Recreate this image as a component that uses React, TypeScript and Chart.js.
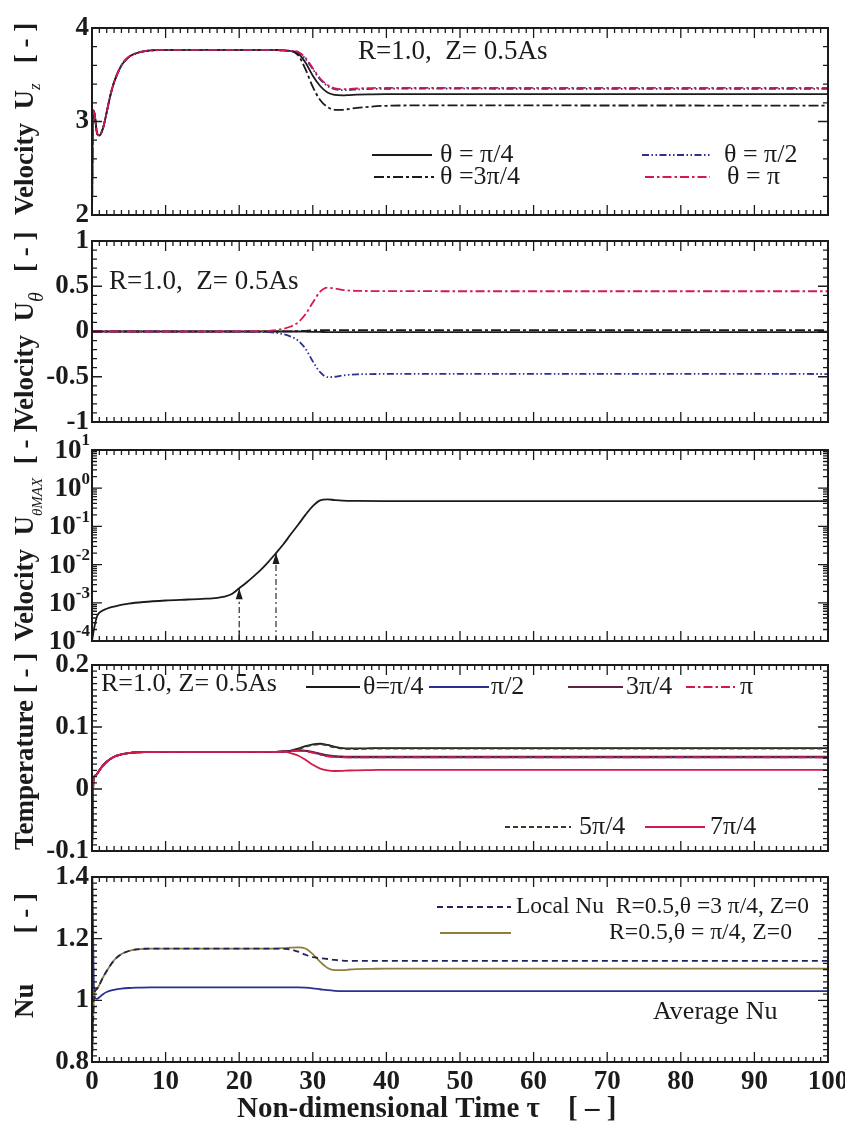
import React, { useEffect, useRef } from "react";
import { Chart, registerables } from "chart.js";

Chart.register(...registerables);

// ---------------- data ----------------
const X_TICKS = [0, 10, 20, 30, 40, 50, 60, 70, 80, 90, 100];

// Panel 1 : axial velocity Uz at R=1.0, Z=0.5As
const T1 = [0, 0.15, 0.35, 0.7, 1, 1.5, 2, 2.5, 3, 4, 5, 6, 7, 8, 10, 15, 20, 25, 26, 27, 28, 29, 30, 31, 32, 33, 34, 35, 36, 38, 40, 45, 50, 60, 70, 80, 90, 100];
const UZ_PI4 = [2.0, 3.12, 3.08, 2.87, 2.85, 2.93, 3.1, 3.28, 3.42, 3.6, 3.69, 3.73, 3.75, 3.76, 3.765, 3.765, 3.765, 3.765, 3.76, 3.755, 3.73, 3.63, 3.49, 3.38, 3.31, 3.285, 3.28, 3.283, 3.287, 3.29, 3.292, 3.293, 3.293, 3.293, 3.293, 3.292, 3.292, 3.292];
const UZ_PI2 = [2.0, 3.12, 3.08, 2.87, 2.85, 2.93, 3.1, 3.28, 3.42, 3.6, 3.69, 3.73, 3.75, 3.76, 3.765, 3.765, 3.765, 3.765, 3.76, 3.755, 3.74, 3.67, 3.56, 3.45, 3.38, 3.345, 3.335, 3.338, 3.343, 3.348, 3.35, 3.351, 3.351, 3.35, 3.35, 3.35, 3.35, 3.35];
const UZ_3PI4 = [2.0, 3.12, 3.08, 2.87, 2.85, 2.93, 3.1, 3.28, 3.42, 3.6, 3.69, 3.73, 3.75, 3.76, 3.765, 3.765, 3.765, 3.765, 3.76, 3.755, 3.71, 3.56, 3.37, 3.23, 3.155, 3.125, 3.125, 3.135, 3.145, 3.16, 3.168, 3.172, 3.172, 3.172, 3.171, 3.171, 3.17, 3.17];
const UZ_PI = [2.0, 3.12, 3.08, 2.87, 2.85, 2.93, 3.1, 3.28, 3.42, 3.6, 3.69, 3.73, 3.75, 3.76, 3.765, 3.765, 3.765, 3.765, 3.76, 3.755, 3.745, 3.68, 3.57, 3.46, 3.39, 3.355, 3.345, 3.348, 3.353, 3.358, 3.36, 3.36, 3.36, 3.36, 3.36, 3.36, 3.36, 3.36];

// Panel 2 : azimuthal velocity U_theta
const T2 = [0, 5, 10, 15, 20, 22, 23, 24, 25, 26, 27, 28, 29, 30, 31, 32, 33, 34, 35, 36, 38, 40, 50, 60, 70, 80, 90, 100];
const UT_PI = [0, 0, 0, 0, 0.001, 0.003, 0.005, 0.008, 0.015, 0.03, 0.055, 0.1, 0.19, 0.32, 0.44, 0.485, 0.475, 0.46, 0.452, 0.449, 0.447, 0.446, 0.445, 0.445, 0.445, 0.445, 0.445, 0.445];
const UT_PI2 = [0, 0, 0, 0, -0.001, -0.003, -0.005, -0.008, -0.015, -0.03, -0.056, -0.1, -0.19, -0.33, -0.45, -0.505, -0.5, -0.487, -0.478, -0.473, -0.47, -0.469, -0.468, -0.468, -0.468, -0.468, -0.468, -0.47];
const UT_PI4 = [0, 0, 0, 0, 0, 0, 0, 0, 0, 0, 0, 0, -0.002, -0.004, -0.005, -0.006, -0.006, -0.006, -0.006, -0.006, -0.006, -0.006, -0.006, -0.006, -0.006, -0.006, -0.006, -0.006];
const UT_3PI4 = [0, 0, 0, 0, 0, 0, 0, 0, 0, 0.001, 0.002, 0.004, 0.008, 0.012, 0.015, 0.016, 0.016, 0.016, 0.016, 0.016, 0.016, 0.016, 0.016, 0.016, 0.016, 0.016, 0.016, 0.016];

// Panel 3 : maximum azimuthal velocity (log)
const T3 = [0, 0.3, 0.7, 1, 2, 3, 5, 7, 10, 13, 15, 17, 18, 19, 20, 21, 22, 23, 24, 25, 26, 27, 28, 29, 30, 31, 32, 33, 34, 36, 40, 50, 60, 70, 80, 90, 100];
const UT_MAX = [1e-4, 2.2e-4, 4.5e-4, 5.5e-4, 7e-4, 8e-4, 9.5e-4, 1.05e-3, 1.15e-3, 1.22e-3, 1.27e-3, 1.35e-3, 1.45e-3, 1.7e-3, 2.4e-3, 3.4e-3, 5e-3, 7.5e-3, 1.2e-2, 2.0e-2, 3.4e-2, 6.2e-2, 0.11, 0.2, 0.34, 0.48, 0.51, 0.49, 0.475, 0.465, 0.46, 0.458, 0.457, 0.457, 0.457, 0.457, 0.457];
const ARROW_T = [20, 25];
const ARROW_TIP = [2.4e-3, 2.0e-2];
const ARROW_BASE = 1e-4;

// Panel 4 : temperature
const T4 = [0, 0.2, 0.5, 1, 1.5, 2, 3, 4, 5, 6, 8, 10, 20, 25, 26, 27, 28, 29, 30, 31, 32, 33, 34, 35, 36, 38, 40, 50, 60, 70, 80, 90, 100];
const TE_PI4 = [-0.1, 0.015, 0.022, 0.03, 0.038, 0.044, 0.052, 0.056, 0.058, 0.059, 0.06, 0.06, 0.06, 0.06, 0.0605, 0.062, 0.065, 0.069, 0.072, 0.073, 0.071, 0.068, 0.066, 0.0655, 0.0655, 0.0658, 0.066, 0.066, 0.066, 0.066, 0.066, 0.066, 0.066];
const TE_PI2 = [-0.1, 0.015, 0.022, 0.03, 0.038, 0.044, 0.052, 0.056, 0.058, 0.059, 0.06, 0.06, 0.06, 0.06, 0.0605, 0.061, 0.062, 0.0615, 0.059, 0.056, 0.053, 0.052, 0.0515, 0.051, 0.051, 0.051, 0.051, 0.051, 0.051, 0.051, 0.051, 0.051, 0.051];
const TE_3PI4 = [-0.1, 0.015, 0.022, 0.03, 0.038, 0.044, 0.052, 0.056, 0.058, 0.059, 0.06, 0.06, 0.06, 0.06, 0.0605, 0.0612, 0.0625, 0.062, 0.06, 0.057, 0.0545, 0.053, 0.0525, 0.052, 0.052, 0.052, 0.052, 0.052, 0.052, 0.052, 0.052, 0.052, 0.052];
const TE_PI = [-0.1, 0.015, 0.022, 0.03, 0.038, 0.044, 0.052, 0.056, 0.058, 0.059, 0.06, 0.06, 0.06, 0.06, 0.0605, 0.061, 0.0618, 0.061, 0.0585, 0.0555, 0.0528, 0.0518, 0.0512, 0.051, 0.051, 0.051, 0.051, 0.051, 0.051, 0.051, 0.051, 0.051, 0.051];
const TE_5PI4 = [-0.1, 0.015, 0.022, 0.03, 0.038, 0.044, 0.052, 0.056, 0.058, 0.059, 0.06, 0.06, 0.06, 0.06, 0.0605, 0.0615, 0.064, 0.068, 0.071, 0.072, 0.07, 0.067, 0.065, 0.0645, 0.0645, 0.065, 0.065, 0.065, 0.065, 0.065, 0.065, 0.065, 0.065];
const TE_7PI4 = [-0.1, 0.015, 0.022, 0.03, 0.038, 0.044, 0.052, 0.056, 0.058, 0.059, 0.06, 0.06, 0.06, 0.06, 0.0602, 0.058, 0.054, 0.047, 0.039, 0.033, 0.03, 0.029, 0.0292, 0.0298, 0.03, 0.0305, 0.031, 0.031, 0.031, 0.031, 0.031, 0.031, 0.031];

// Panel 5 : Nusselt number
const T5 = [0, 0.3, 0.6, 1, 1.5, 2, 3, 4, 5, 6, 8, 10, 20, 25, 26, 27, 28, 29, 30, 31, 32, 33, 34, 35, 36, 38, 40, 50, 60, 70, 80, 90, 100];
const NU_LOCAL_3PI4 = [0.8, 1.02, 1.035, 1.05, 1.075, 1.095, 1.13, 1.15, 1.16, 1.165, 1.168, 1.168, 1.168, 1.168, 1.167, 1.165, 1.158, 1.148, 1.14, 1.137, 1.134, 1.131, 1.129, 1.128, 1.128, 1.128, 1.128, 1.128, 1.128, 1.128, 1.128, 1.128, 1.128];
const NU_LOCAL_PI4 = [0.8, 1.02, 1.035, 1.05, 1.075, 1.095, 1.13, 1.15, 1.16, 1.165, 1.168, 1.168, 1.168, 1.168, 1.169, 1.171, 1.172, 1.168, 1.15, 1.125, 1.105, 1.098, 1.098, 1.1, 1.101, 1.102, 1.103, 1.103, 1.103, 1.103, 1.103, 1.103, 1.103];
const NU_AVG = [1.5, 1.02, 1.005, 1.01, 1.02, 1.027, 1.034, 1.038, 1.04, 1.041, 1.042, 1.042, 1.042, 1.042, 1.042, 1.042, 1.042, 1.041, 1.039, 1.036, 1.033, 1.031, 1.03, 1.03, 1.03, 1.03, 1.03, 1.03, 1.03, 1.03, 1.03, 1.03, 1.03];

// ---------------- style ----------------
const FONT = '"Liberation Serif", "Times New Roman", serif';
const INK = "#1b1b1b";
const C_RED = "#d4194c";
const C_BLUE = "#2b2f8f";
const C_MAROON = "#5e2344";
const C_OLIVE = "#8f7d3f";
const C_NAVY = "#23235a";
const C_DKOLIVE = "#3d3a28";
const DASH_DDOT = [7, 2.5, 1.5, 2.5, 1.5, 2.5];
const DASH_LONG = [10, 3, 3, 3];
const DASH_DOT = [9, 3, 2.5, 3];
const DASH_SHORT = [5, 3];

const W = 845;
const PAGE_H = 1133;
const PLOT_L = 92;
const PLOT_R = 828;
const PAD = 28;
const LW = 1.8;

const B27 = `bold 27px ${FONT}`;
const R26 = `26px ${FONT}`;
const R27 = `27px ${FONT}`;

const pts = (t: number[], v: number[]) => t.map((x, i) => ({ x, y: v[i] }));
const line = (label: string, t: number[], v: number[], color: string, dash: number[] = [], width = LW) => ({
  label,
  data: pts(t, v),
  borderColor: color,
  borderDash: dash,
  borderWidth: width,
  pointRadius: 0,
  fill: false,
  cubicInterpolationMode: "monotone",
});

function txt(ctx: CanvasRenderingContext2D, s: string, x: number, y: number, font: string, width?: number, align: CanvasTextAlign = "left") {
  ctx.save();
  ctx.font = font;
  ctx.fillStyle = INK;
  ctx.textBaseline = "middle";
  ctx.textAlign = align;
  if (width) {
    const w = ctx.measureText(s).width;
    ctx.translate(x, y);
    ctx.scale(width / w, 1);
    ctx.fillText(s, 0, 0);
  } else ctx.fillText(s, x, y);
  ctx.restore();
}

function sample(ctx: CanvasRenderingContext2D, x1: number, x2: number, y: number, color: string, dash: number[] = [], lw = LW) {
  ctx.save();
  ctx.strokeStyle = color;
  ctx.lineWidth = lw;
  ctx.setLineDash(dash);
  ctx.beginPath();
  ctx.moveTo(x1, y);
  ctx.lineTo(x2, y);
  ctx.stroke();
  ctx.restore();
}

type Seg = { text: string; font: string; dy?: number; gap?: number };
function rotText(ctx: CanvasRenderingContext2D, x: number, yStart: number, segs: Seg[], sx = 1) {
  ctx.save();
  ctx.translate(x, yStart);
  ctx.rotate(-Math.PI / 2);
  ctx.scale(sx, 1);
  ctx.fillStyle = INK;
  ctx.textBaseline = "alphabetic";
  ctx.textAlign = "left";
  let cx = 0;
  for (const s of segs) {
    cx += s.gap || 0;
    ctx.font = s.font;
    ctx.fillText(s.text, cx, s.dy || 0);
    cx += ctx.measureText(s.text).width;
  }
  ctx.restore();
}

type Ticks = { major: number[]; minor: number[] };
type PanelDef = {
  top: number;
  bottom: number;
  yType: "linear" | "logarithmic";
  yMin: number;
  yMax: number;
  yStep?: number;
  showX: boolean;
  datasets: any[];
  ticks: () => Ticks;
  decorate: (ctx: CanvasRenderingContext2D, chart: any) => void;
};

const range = (a: number, b: number, div: number, majorEvery: number): Ticks => {
  const major: number[] = [];
  const minor: number[] = [];
  for (let i = a; i <= b; i++) {
    if (i % majorEvery === 0) major.push(i / div);
    else minor.push(i / div);
  }
  return { major, minor };
};

const PANELS: PanelDef[] = [
  {
    top: 28, bottom: 215, yType: "linear", yMin: 2, yMax: 4, yStep: 1, showX: false,
    datasets: [
      line("θ = π", T1, UZ_PI, C_RED, DASH_DOT),
      line("θ = π/2", T1, UZ_PI2, C_BLUE, DASH_DDOT),
      line("θ = 3π/4", T1, UZ_3PI4, INK, DASH_LONG),
      line("θ = π/4", T1, UZ_PI4, INK),
    ],
    ticks: () => range(10, 20, 5, 5),
    decorate: (ctx) => {
      rotText(ctx, 33, 215, [
        { text: "Velocity", font: B27 },
        { text: "  U", font: B27 },
        { text: "z", font: `italic 17px ${FONT}`, dy: 7 },
        { text: "   [ - ]", font: B27 },
      ]);
      txt(ctx, "R=1.0,  Z= 0.5As", 358, 52, R27);
      sample(ctx, 372, 432, 155, INK);
      txt(ctx, "θ = π/4", 440, 155, R26);
      sample(ctx, 642, 710, 155, C_BLUE, DASH_DDOT);
      txt(ctx, "θ = π/2", 724, 155, R26);
      sample(ctx, 374, 434, 177, INK, DASH_LONG);
      txt(ctx, "θ =3π/4", 440, 177, R26);
      sample(ctx, 645, 710, 177, C_RED, DASH_DOT);
      txt(ctx, "θ = π", 727, 177, R26);
    },
  },
  {
    top: 241, bottom: 422, yType: "linear", yMin: -1, yMax: 1, yStep: 0.5, showX: false,
    datasets: [
      line("θ = π", T2, UT_PI, C_RED, DASH_DOT),
      line("θ = π/2", T2, UT_PI2, C_BLUE, DASH_DDOT),
      line("θ = 3π/4", T2, UT_3PI4, INK, DASH_LONG),
      line("θ = π/4", T2, UT_PI4, INK),
    ],
    ticks: () => range(-10, 10, 10, 5),
    decorate: (ctx) => {
      rotText(ctx, 33, 427, [
        { text: "Velocity", font: B27 },
        { text: "  U", font: B27 },
        { text: "θ", font: `italic 20px ${FONT}`, dy: 10 },
        { text: "   [ - ]", font: B27 },
      ]);
      txt(ctx, "R=1.0,  Z= 0.5As", 109, 282, R27);
    },
  },
  {
    top: 450, bottom: 641, yType: "logarithmic", yMin: 1e-4, yMax: 10, showX: false,
    datasets: [
      line("U θMAX", T3, UT_MAX, INK),
      line("onset 1", [ARROW_T[0], ARROW_T[0]], [ARROW_BASE, ARROW_TIP[0]], INK, [6, 3, 2, 3], 1.1),
      line("onset 2", [ARROW_T[1], ARROW_T[1]], [ARROW_BASE, ARROW_TIP[1]], INK, [6, 3, 2, 3], 1.1),
    ],
    ticks: () => {
      const major: number[] = [];
      const minor: number[] = [];
      for (let k = -4; k <= 1; k++) {
        major.push(Math.pow(10, k));
        if (k < 1) for (let m = 2; m <= 9; m++) minor.push(m * Math.pow(10, k));
      }
      return { major, minor };
    },
    decorate: (ctx) => {
      rotText(ctx, 33, 641, [
        { text: "Velocity", font: B27 },
        { text: "  U", font: B27 },
        { text: "θMAX", font: `italic 15px ${FONT}`, dy: 9 },
        { text: "  [ - ]", font: B27 },
      ]);
    },
  },
  {
    top: 665, bottom: 851, yType: "linear", yMin: -0.1, yMax: 0.2, yStep: 0.1, showX: false,
    datasets: [
      line("7π/4", T4, TE_7PI4, C_RED),
      line("π", T4, TE_PI, C_RED, DASH_DOT),
      line("3π/4", T4, TE_3PI4, C_MAROON),
      line("π/2", T4, TE_PI2, C_BLUE),
      line("5π/4", T4, TE_5PI4, C_DKOLIVE, DASH_SHORT),
      line("θ=π/4", T4, TE_PI4, INK),
    ],
    ticks: () => range(-10, 20, 100, 10),
    decorate: (ctx) => {
      rotText(ctx, 33, 850, [
        { text: "Temperature", font: B27 },
        { text: " [ - ]", font: B27 },
      ]);
      txt(ctx, "R=1.0, Z= 0.5As", 101, 684, R26);
      sample(ctx, 306, 360, 687, INK);
      txt(ctx, "θ=π/4", 363, 687, R26);
      sample(ctx, 429, 489, 687, C_BLUE);
      txt(ctx, "π/2", 491, 687, R26);
      sample(ctx, 568, 623, 687, C_MAROON);
      txt(ctx, "3π/4", 626, 687, R26);
      sample(ctx, 686, 735, 687, C_RED, DASH_DOT);
      txt(ctx, "π", 740, 687, R26);
      sample(ctx, 505, 571, 827, C_DKOLIVE, DASH_SHORT);
      txt(ctx, "5π/4", 579, 827, R26);
      sample(ctx, 645, 705, 827, C_RED);
      txt(ctx, "7π/4", 710, 827, R26);
    },
  },
  {
    top: 877, bottom: 1062, yType: "linear", yMin: 0.8, yMax: 1.4, yStep: 0.2, showX: true,
    datasets: [
      line("Local Nu R=0.5, θ=3π/4, Z=0", T5, NU_LOCAL_3PI4, C_NAVY, [6, 4]),
      line("R=0.5, θ=π/4, Z=0", T5, NU_LOCAL_PI4, C_OLIVE),
      line("Average Nu", T5, NU_AVG, C_BLUE),
    ],
    ticks: () => range(40, 70, 50, 10),
    decorate: (ctx) => {
      rotText(ctx, 33, 1018, [
        { text: "Nu", font: B27 },
        { text: "[ - ]", font: B27, gap: 50 },
      ]);
      sample(ctx, 437, 511, 907, C_NAVY, [6, 4]);
      txt(ctx, "Local Nu  R=0.5,θ =3 π/4, Z=0", 516, 907, `24px ${FONT}`, 293);
      sample(ctx, 440, 511, 933, C_OLIVE);
      txt(ctx, "R=0.5,θ = π/4, Z=0", 609, 933, `24px ${FONT}`, 183);
      txt(ctx, "Average Nu", 653, 1012, R26);
      txt(ctx, "Non-dimensional Time τ", 237, 1110, `bold 29px ${FONT}`);
      txt(ctx, "[ – ]", 568, 1110, `bold 29px ${FONT}`);
    },
  },
];

const fmt = (v: any) => String(parseFloat(Number(v).toFixed(4)));

function Panel({ def }: { def: PanelDef }) {
  const ref = useRef<HTMLCanvasElement>(null);
  const cTop = def.top - PAD;
  const cBottom = def.showX ? PAGE_H : def.bottom + PAD;
  const cH = cBottom - cTop;
  const ph = def.bottom - def.top;

  useEffect(() => {
    const tickFont = { family: FONT, size: 27, weight: "bold" as const };
    const isLog = def.yType === "logarithmic";
    const decor = {
      id: "panelDecor",
      afterDraw(chart: any) {
        const ctx: CanvasRenderingContext2D = chart.ctx;
        const { left, right, top, bottom } = chart.chartArea;
        const xs = chart.scales.x;
        const ys = chart.scales.y;
        ctx.save();
        ctx.strokeStyle = INK;
        ctx.lineWidth = 2;
        ctx.setLineDash([]);
        ctx.strokeRect(left, top, right - left, bottom - top);
        ctx.lineWidth = 1.3;
        ctx.beginPath();
        for (let v = 0; v <= 100; v++) {
          const px = xs.getPixelForValue(v);
          const len = v % 10 === 0 ? 10 : 5;
          ctx.moveTo(px, bottom);
          ctx.lineTo(px, bottom - len);
          ctx.moveTo(px, top);
          ctx.lineTo(px, top + len);
        }
        const tk = def.ticks();
        const yt = (v: number, len: number) => {
          const py = ys.getPixelForValue(v);
          ctx.moveTo(left, py);
          ctx.lineTo(left + len, py);
          ctx.moveTo(right, py);
          ctx.lineTo(right - len, py);
        };
        tk.major.forEach((v) => yt(v, 10));
        tk.minor.forEach((v) => yt(v, 5));
        ctx.stroke();

        if (isLog) {
          for (let k = -4; k <= 1; k++) {
            const py = ys.getPixelForValue(Math.pow(10, k));
            ctx.font = `bold 17px ${FONT}`;
            const e = String(k);
            const ew = ctx.measureText(e).width;
            ctx.fillStyle = INK;
            ctx.textAlign = "left";
            ctx.textBaseline = "middle";
            ctx.fillText(e, 90 - ew, py - 9);
            ctx.font = `bold 27px ${FONT}`;
            ctx.textAlign = "right";
            ctx.fillText("10", 90 - ew, py + 1);
          }
          ctx.fillStyle = INK;
          ARROW_T.forEach((t, i) => {
            const px = xs.getPixelForValue(t);
            const py = ys.getPixelForValue(ARROW_TIP[i]);
            ctx.beginPath();
            ctx.moveTo(px, py);
            ctx.lineTo(px - 3.5, py + 11);
            ctx.lineTo(px + 3.5, py + 11);
            ctx.closePath();
            ctx.fill();
          });
        }
        ctx.restore();

        ctx.save();
        ctx.translate(0, -cTop);
        def.decorate(ctx, chart);
        ctx.restore();
      },
    };

    const chart = new Chart(ref.current as HTMLCanvasElement, {
      type: "line",
      data: { datasets: def.datasets as any },
      options: {
        responsive: false,
        animation: false,
        devicePixelRatio: 1,
        events: [],
        layout: { padding: { left: 0, right: W - PLOT_R, top: PAD, bottom: 0 } },
        plugins: { legend: { display: false }, tooltip: { enabled: false } },
        scales: {
          x: {
            type: "linear",
            min: 0,
            max: 100,
            afterBuildTicks: (s: any) => {
              s.ticks = X_TICKS.map((v) => ({ value: v }));
            },
            ticks: {
              display: def.showX,
              font: tickFont,
              color: INK,
              padding: 4,
              maxRotation: 0,
              autoSkip: false,
              callback: (v: any) => fmt(v),
            },
            grid: { display: false, drawTicks: false },
            border: { display: false },
            afterFit: (s: any) => {
              s.height = cH - PAD - ph;
              s.paddingLeft = 0;
              s.paddingRight = 0;
            },
          },
          y: {
            type: def.yType,
            min: def.yMin,
            max: def.yMax,
            ...(isLog
              ? {
                  afterBuildTicks: (s: any) => {
                    s.ticks = [-4, -3, -2, -1, 0, 1].map((k) => ({ value: Math.pow(10, k) }));
                  },
                }
              : {}),
            ticks: {
              display: !isLog,
              stepSize: def.yStep,
              font: tickFont,
              color: INK,
              padding: 3,
              callback: (v: any) => fmt(v),
            },
            grid: { display: false, drawTicks: false },
            border: { display: false },
            afterFit: (s: any) => {
              s.width = PLOT_L;
              s.paddingTop = 0;
              s.paddingBottom = 0;
            },
          },
        },
      } as any,
      plugins: [decor as any],
    });
    return () => chart.destroy();
  }, []);

  return (
    <canvas
      ref={ref}
      width={W}
      height={cH}
      style={{ position: "absolute", left: 0, top: cTop, width: W, height: cH }}
    />
  );
}

export default function App() {
  return (
    <div style={{ position: "absolute", left: 0, top: 0, width: W, height: PAGE_H, background: "#ffffff", overflow: "hidden" }}>
      {PANELS.map((p, i) => (
        <Panel key={i} def={p} />
      ))}
    </div>
  );
}
